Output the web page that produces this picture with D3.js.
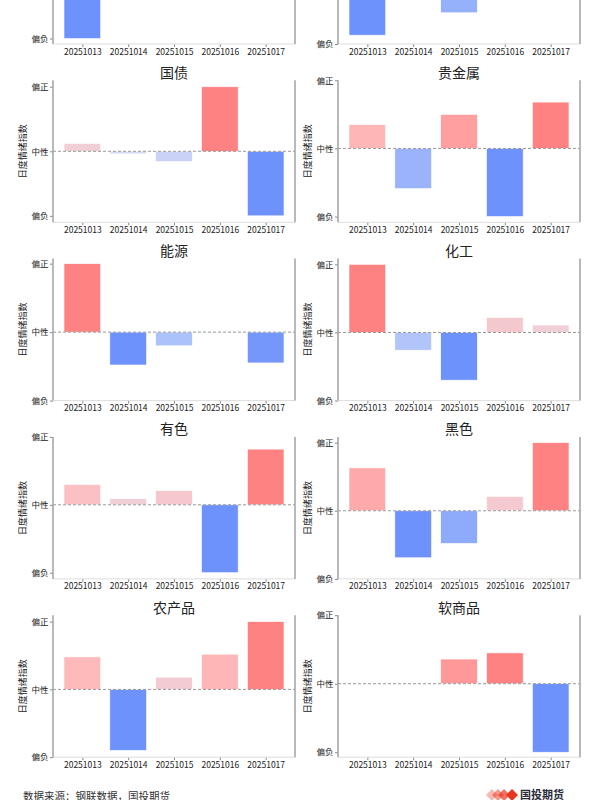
<!DOCTYPE html>
<html>
<head>
<meta charset="utf-8">
<script src="https://cdn.jsdelivr.net/npm/d3@7"></script>
<style>
  body { margin: 0; background: #fff; }
  svg { display: block; font-family: "Noto Sans CJK SC", "Noto Sans", sans-serif; }
</style>
</head>
<body>
<script>
const svgWidth = 600
const svgHeight = 800

// data (normalised sentiment, -1 .. 1)
const dates = ["20251013", "20251014", "20251015", "20251016", "20251017"]
const tickLabels = ["偏负", "中性", "偏正"]
const sectors = ["股指", "集运", "国债", "贵金属", "能源", "化工", "有色", "黑色", "农产品", "软商品"]

const guzhi = [-1.0, 0.3, 0.6, 0.2, 0.4]
const jiyun = [-0.87, 0.4, -0.54, 0.2, 1.0]
const guozhai = [0.12, -0.04, -0.16, 1.0, -1.0]
const guijinshu = [0.35, -0.59, 0.5, -1.0, 0.68]
const nengyuan = [1.0, -0.48, -0.2, 0, -0.45]
const huagong = [1.0, -0.26, -0.7, 0.22, 0.11]
const youse = [0.3, 0.09, 0.21, -1.0, 0.82]
const heise = [0.63, -0.69, -0.48, 0.21, 1.0]
const nongchanpin = [0.48, -0.9, 0.18, 0.52, 1.0]
const ruanshangpin = [0, 0, 0.36, 0.45, -1.0]

const series = [guzhi, jiyun, guozhai, guijinshu, nengyuan, huagong, youse, heise, nongchanpin, ruanshangpin]

const axW = 242
const axH = 142
const colLeft = [53, 338]
const rowTop0 = -98
const rowStep = 178.3

const negColor = d3.scaleLinear().domain([0, 0.4, 1]).range(["#dcdcf4", "#aec3fb", "#6e92fb"])
const posColor = d3.scaleLinear().domain([0, 0.5, 1]).range(["#ecd6e0", "#ffb8b8", "#ff8282"])

const svg = d3.select("body").append("svg")
    .attr("width", svgWidth)
    .attr("height", svgHeight)

series.forEach((vals, k) => {
    const left = colLeft[k % 2]
    const top = rowTop0 + Math.floor(k / 2) * rowStep

    // matplotlib-like limits: 5% margin, then widened to show ticks at -1 and 1
    const lo = Math.min(0, d3.min(vals))
    const hi = Math.max(0, d3.max(vals))
    const pad = 0.05 * (hi - lo)
    const y = d3.scaleLinear()
        .domain([Math.min(-1, lo - pad), Math.max(1, hi + pad)])
        .range([top + axH, top])

    const xPad = 0.05 * (dates.length - 1 + 0.8)
    const x = d3.scaleLinear()
        .domain([-0.4 - xPad, dates.length - 1 + 0.4 + xPad])
        .range([left, left + axW])

    const vmax = d3.max(vals)
    const vmin = d3.min(vals)
    const color = v => v >= 0 ? posColor(vmax > 0 ? v / vmax : 0) : negColor(vmin < 0 ? v / vmin : 0)

    const g = svg.append("g")

    g.selectAll("rect")
        .data(vals)
        .enter()
        .append("rect")
        .attr("x", (d, i) => x(i - 0.4))
        .attr("width", x(0.4) - x(-0.4))
        .attr("y", d => y(Math.max(0, d)))
        .attr("height", d => Math.abs(y(d) - y(0)))
        .attr("fill", d => color(d))
        .attr("stroke", "#ffffff")
        .attr("stroke-width", 0.6)

    // zero line
    g.append("line")
        .attr("x1", left).attr("x2", left + axW)
        .attr("y1", y(0)).attr("y2", y(0))
        .attr("stroke", "#999")
        .attr("stroke-width", 1)
        .attr("stroke-dasharray", "3,2")

    const yAxis = d3.axisLeft(y)
        .tickValues([-1, 0, 1])
        .tickFormat((d, i) => tickLabels[i])
        .tickSize(3)
        .tickPadding(1.5)

    const xAxis = d3.axisBottom(x)
        .tickValues(d3.range(dates.length))
        .tickFormat(i => dates[i])
        .tickSize(3)
        .tickPadding(1.5)

    const ya = g.append("g")
        .attr("transform", `translate(${left}, 0)`)
        .call(yAxis)
    const xa = g.append("g")
        .attr("transform", `translate(0, ${top + axH})`)
        .call(xAxis)

    ya.select(".domain").remove()
    xa.select(".domain").remove()
    g.selectAll(".tick line").attr("stroke", "#888")
    g.selectAll(".tick text")
        .attr("fill", "#222")
        .attr("font-size", 8.5)
        .attr("font-family", "Noto Sans CJK SC")

    // spines
    g.append("line")
        .attr("x1", left).attr("x2", left + axW)
        .attr("y1", top + axH).attr("y2", top + axH)
        .attr("stroke", "#dddddd").attr("stroke-width", 1)
    g.append("line")
        .attr("x1", left).attr("x2", left)
        .attr("y1", top).attr("y2", top + axH)
        .attr("stroke", "#a8a8a8").attr("stroke-width", 1.6)
    g.append("line")
        .attr("x1", left + axW).attr("x2", left + axW)
        .attr("y1", top).attr("y2", top + axH)
        .attr("stroke", "#a8a8a8").attr("stroke-width", 1.6)

    // title
    g.append("text")
        .attr("x", left + axW / 2)
        .attr("y", top - 2.5)
        .attr("text-anchor", "middle")
        .attr("font-size", 14)
        .attr("fill", "#222")
        .text(sectors[k])

    // y label
    g.append("text")
        .attr("transform", `translate(${left - 27}, ${top + axH / 2}) rotate(-90)`)
        .attr("text-anchor", "middle")
        .attr("font-size", 9)
        .attr("fill", "#222")
        .text("日度情绪指数")
})

// footer
svg.append("text")
    .attr("x", 23)
    .attr("y", 800)
    .attr("font-size", 10.5)
    .attr("fill", "#333")
    .text("数据来源：钢联数据，国投期货")

const logo = svg.append("g").attr("transform", "translate(486, 795)")
const diamonds = [0, 6, 12, 20]
const alphas = [0.35, 0.5, 0.7, 1]
diamonds.forEach((dx, i) => {
    logo.append("path")
        .attr("d", `M${dx},0 L${dx + 6},-6 L${dx + 12},0 L${dx + 6},6 Z`)
        .attr("fill", "#e8361f")
        .attr("fill-opacity", alphas[i])
})
svg.append("text")
    .attr("x", 520)
    .attr("y", 799)
    .attr("font-size", 11)
    .attr("font-weight", "bold")
    .attr("fill", "#2b2b3a")
    .text("国投期货")
</script>
</body>
</html>
